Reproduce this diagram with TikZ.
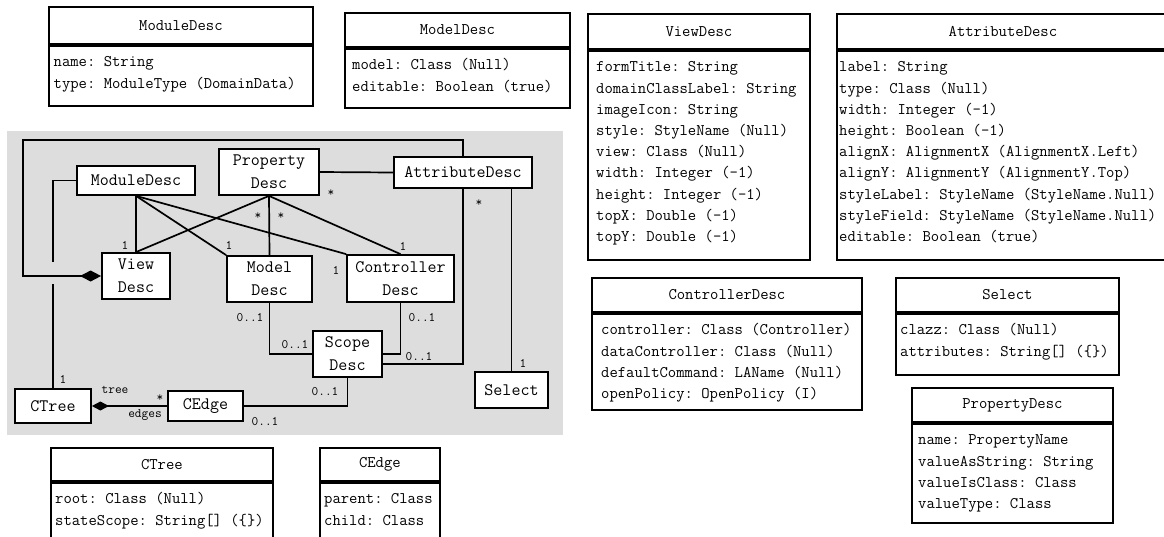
\documentclass[tikz,border=0pt]{standalone}
\usepackage{fontspec}
\usetikzlibrary{arrows.meta}
\newcommand\tabfont{\fontsize{16.2pt}{21.2pt}\selectfont\ttfamily\frenchspacing}
\newcommand\dfont{\fontsize{17.5pt}{23pt}\selectfont\ttfamily\frenchspacing}
\newcommand\lfont{\fontsize{13pt}{15pt}\selectfont\ttfamily\frenchspacing}
\definecolor{bggray}{RGB}{221,221,221}
\tikzset{
  tabbox/.style={draw, line width=1.8pt, fill=white, anchor=north west, inner sep=0pt, font=\tabfont},
  tabtext/.style={anchor=north west, inner sep=0pt, font=\tabfont},
  dbox/.style={draw, line width=1.8pt, fill=white, inner sep=0pt, align=center, font=\dfont},
  conn/.style={line width=1.7pt},
  lab/.style={inner sep=0pt, font=\lfont},
}
% #1 name, #2 x, #3 y, #4 width, #5 header height, #6 body height, #7 left pad, #8 title, #9 rows
\newcommand\umltab[9]{%
  \node[tabbox, minimum width=#4pt, minimum height=#5pt] (#1h) at (#2,#3) {#8};
  \node[tabbox, minimum width=#4pt, minimum height=#6pt] (#1b) at (#1h.south west) {};
  \node[tabtext] (#1t) at ([xshift=#7pt,yshift=-7pt]#1h.south west) {\begin{tabular}{@{}l@{}}#9\end{tabular}};
}
\begin{document}
\begin{tikzpicture}[x=1pt,y=-1pt]
\useasboundingbox (0,0) rectangle (1164,536);
\clip (0,0) rectangle (1164,536);
\fill[white] (0,0) rectangle (1164,536);
% ---------- class tables ----------
\umltab{tmod}{48}{6}{264}{37}{60}{5.5}{ModuleDesc}{name: String\\type: ModuleType (DomainData)}
\umltab{tmodel}{344}{12}{225}{34}{59}{8}{ModelDesc}{model: Class (Null)\\editable: Boolean (true)}
\umltab{tview}{587}{13}{222}{35}{209}{9}{ViewDesc}{formTitle: String\\domainClassLabel: String\\imageIcon: String\\style: StyleName (Null)\\view: Class (Null)\\width: Integer (-1)\\height: Integer (-1)\\topX: Double (-1)\\topY: Double (-1)}
\umltab{tattr}{836}{13}{332}{35}{209}{3}{AttributeDesc}{label: String\\type: Class (Null)\\width: Integer (-1)\\height: Boolean (-1)\\alignX: AlignmentX (AlignmentX.Left)\\alignY: AlignmentY (AlignmentY.Top)\\styleLabel: StyleName (StyleName.Null)\\styleField: StyleName (StyleName.Null)\\editable: Boolean (true)}
\umltab{tctrl}{591}{277}{270}{34}{96}{10}{ControllerDesc}{controller: Class (Controller)\\dataController: Class (Null)\\defaultCommand: LAName (Null)\\openPolicy: OpenPolicy (I)}
\umltab{tsel}{895}{277}{223}{34}{61}{5}{Select}{clazz: Class (Null)\\attributes: String[] (\{\})}
\umltab{tprop}{911}{387}{201}{34}{99}{7}{PropertyDesc}{name: PropertyName\\valueAsString: String\\valueIsClass: Class\\valueType: Class}
\umltab{tctree}{50}{447}{222}{33}{80}{5}{CTree}{root: Class (Null)\\stateScope: String[] (\{\})}
\umltab{tcedge}{319}{447}{120}{33}{80}{5}{CEdge}{parent: Class\\child: Class}
% ---------- diagram ----------
\fill[bggray] (7,131) rectangle (563,435);
\node[dbox, minimum width=118pt, minimum height=29pt] (mod) at (136,180.5) {ModuleDesc};
\node[dbox, minimum width=100pt, minimum height=46pt] (prop) at (269,172) {Property\\Desc};
\node[dbox, minimum width=138pt, minimum height=31pt] (attr) at (463,172.5) {AttributeDesc};
\node[dbox, minimum width=68pt, minimum height=46pt] (view) at (136,276) {View\\Desc};
\node[dbox, minimum width=85pt, minimum height=46pt] (model) at (269.5,279) {Model\\Desc};
\node[dbox, minimum width=107pt, minimum height=47pt] (ctrl) at (400.5,278.5) {Controller\\Desc};
\node[dbox, minimum width=69pt, minimum height=46pt] (scope) at (347.5,354) {Scope\\Desc};
\node[dbox, minimum width=76pt, minimum height=34pt] (ctree) at (53,406) {CTree};
\node[dbox, minimum width=75pt, minimum height=30pt] (cedge) at (205.5,406) {CEdge};
\node[dbox, minimum width=73pt, minimum height=36pt] (sel) at (511.5,390) {Select};
\coordinate (loopTL) at (23,140);
\coordinate (hopA) at (53,262);
\coordinate (hopB) at (53,284);
\draw[conn] (mod.south) -- (view.north);
\draw[conn] (mod.south) -- (model.north west);
\draw[conn] (mod.south) -- (ctrl.north west);
\draw[conn] (prop.south) -- (view.north);
\draw[conn] (prop.south) -- (model.north);
\draw[conn] (prop.south) -- (ctrl.north);
\draw[conn] (prop.east) -- (attr.west);
\draw[conn] (model.south) |- (scope.west);
\draw[conn] (ctrl.south) |- (scope.east);
\draw[conn] (attr.south) |- ([yshift=-10pt]scope.east);
\draw[conn] (scope.south) |- (cedge.east);
\draw[conn] (sel.north) -- (sel.north |- attr.south);
\draw[conn, {Diamond[length=17pt,width=9pt]}-] (ctree.east) -- (cedge.west);
\draw[conn, {Diamond[length=21pt,width=11pt]}-] (view.west) -- (view.west -| loopTL) -- (loopTL) -| (attr.north);
\draw[conn] (mod.west) -| (hopA);
\draw[conn] (hopB) -- (ctree.north);
% ---------- labels ----------
\node[lab] (l1) at (125,245) {1};
\node[lab] (l2) at (229,245) {1};
\node[lab] (l3) at (258,216) {*};
\node[lab] (l4) at (281,216) {*};
\node[lab] (l5) at (331,193) {*};
\node[lab] (l6) at (403,246) {1};
\node[lab] (l7) at (336,270) {1};
\node[lab] (l8) at (479,203) {*};
\node[lab] (l9) at (250,318) {0..1};
\node[lab] (l10) at (295,345) {0..1};
\node[lab] (l11) at (422,318) {0..1};
\node[lab] (l12) at (419,357) {0..1};
\node[lab] (l13) at (325,392) {0..1};
\node[lab] (l14) at (265,422) {0..1};
\node[lab] (l15) at (63,379) {1};
\node[lab] (l16) at (115,390) {tree};
\node[lab] (l17) at (160,398) {*};
\node[lab] (l18) at (145,415) {edges};
\node[lab] (l19) at (523,363) {1};
\end{tikzpicture}
\end{document}
